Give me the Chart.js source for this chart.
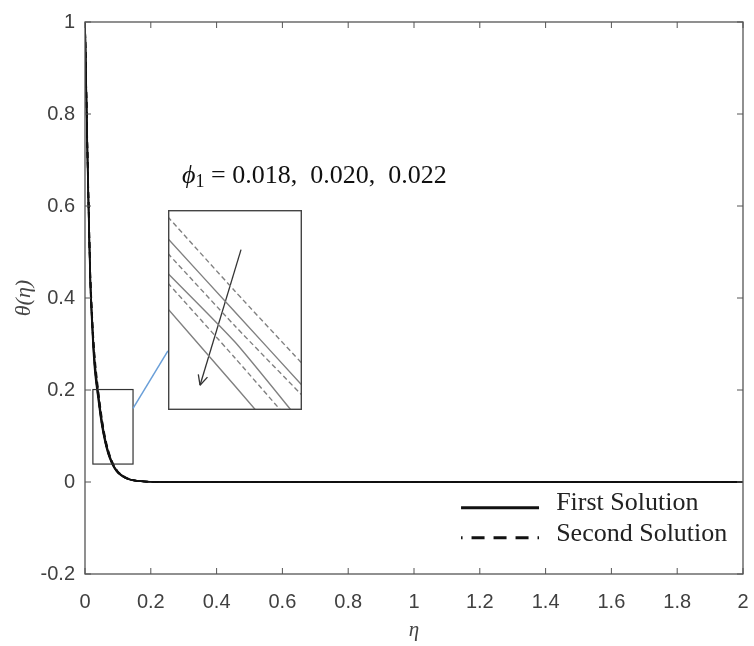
<!DOCTYPE html>
<html>
<head>
<meta charset="utf-8">
<script src="https://cdn.jsdelivr.net/npm/chart.js@4.4.0/dist/chart.umd.min.js"></script>
<style>
  html, body { margin: 0; padding: 0; background: #fff; }
  #wrap { position: relative; width: 754px; height: 646px; }
  #main { position: absolute; left: 0; top: 0; }
  #inset { position: absolute; left: 0; top: 0; }
</style>
</head>
<body>
<div id="wrap">
  <canvas id="main" width="754" height="646"></canvas>
  <canvas id="inset" width="10" height="10"></canvas>
</div>
<script>
// eta grid and temperature profiles
const eta = [0, 0.004, 0.008, 0.012, 0.016, 0.02, 0.025, 0.03, 0.04, 0.05, 0.06, 0.07, 0.08, 0.09, 0.1,
             0.12, 0.14, 0.16, 0.18, 0.2, 0.25, 0.3, 0.4, 0.6, 0.8, 1.0, 1.2, 1.4, 1.6, 1.8, 2.0];

const firstPhi018 = [1, 0.85, 0.70, 0.57, 0.45, 0.38, 0.31, 0.26, 0.195, 0.14, 0.098, 0.068, 0.047, 0.032, 0.022,
                     0.011, 0.005, 0.0025, 0.0012, 0.0006, 0.0001, 0, 0, 0, 0, 0, 0, 0, 0, 0, 0];
const firstPhi020 = [1, 0.845, 0.69, 0.56, 0.44, 0.37, 0.30, 0.25, 0.188, 0.134, 0.094, 0.065, 0.045, 0.031, 0.021,
                     0.010, 0.0048, 0.0024, 0.0011, 0.0005, 0.0001, 0, 0, 0, 0, 0, 0, 0, 0, 0, 0];
const firstPhi022 = [1, 0.84, 0.68, 0.55, 0.43, 0.36, 0.29, 0.24, 0.181, 0.128, 0.09, 0.062, 0.043, 0.029, 0.020,
                     0.0095, 0.0045, 0.0022, 0.001, 0.0005, 0.0001, 0, 0, 0, 0, 0, 0, 0, 0, 0, 0];
const secondPhi018 = [1, 0.855, 0.71, 0.58, 0.46, 0.39, 0.32, 0.27, 0.202, 0.146, 0.102, 0.071, 0.049, 0.034, 0.023,
                      0.0115, 0.0053, 0.0026, 0.0013, 0.0006, 0.0001, 0, 0, 0, 0, 0, 0, 0, 0, 0, 0];
const secondPhi020 = [1, 0.85, 0.70, 0.57, 0.45, 0.38, 0.31, 0.26, 0.192, 0.138, 0.097, 0.067, 0.046, 0.032, 0.0215,
                      0.0105, 0.005, 0.0025, 0.0012, 0.0006, 0.0001, 0, 0, 0, 0, 0, 0, 0, 0, 0, 0];
const secondPhi022 = [1, 0.845, 0.69, 0.56, 0.44, 0.37, 0.30, 0.25, 0.185, 0.132, 0.092, 0.064, 0.044, 0.030, 0.0205,
                      0.0098, 0.0046, 0.0023, 0.0011, 0.0005, 0.0001, 0, 0, 0, 0, 0, 0, 0, 0, 0, 0];

const phiValues = [0.018, 0.020, 0.022];
const legendLabels = ['First Solution', 'Second Solution'];

// zoomed view (inset), in its own 0..1 units
const insetU = [0, 0.5, 1];
const insetDashA = [0.965, 0.594, 0.233];
const insetSolidA = [0.856, 0.49, 0.124];
const insetDashB = [0.782, 0.42, 0.074];
const insetSolidB = [0.683, 0.34, -0.068];
const insetDashC = [0.634, 0.26, -0.124];
const insetSolidC = [0.505, 0.12, -0.27];
const arrowU = [0.545, 0.239];
const arrowV = [0.802, 0.124];

// boxes in data units (eta, theta)
const zoomBox = { eta0: 0.024, eta1: 0.146, th0: 0.039, th1: 0.201 };
const insetBox = { eta0: 0.252, eta1: 0.66, th0: 0.156, th1: 0.592 };
const connector = { thFrom: 0.16, thTo: 0.285 };

const pts = (xs, ys) => xs.map((x, i) => ({ x: x, y: ys[i] }));

function line(data, dashed) {
    return {
        data: pts(eta, data),
        borderColor: '#111',
        borderWidth: 1.6,
        borderDash: dashed ? [6, 4] : [],
        cubicInterpolationMode: 'monotone',
        pointRadius: 0,
        fill: false,
    };
}

const tickFont = { family: 'Liberation Sans, Arial, sans-serif', size: 20 };

// box, inward ticks, zoom box, labels, legend
const decorPlugin = {
    id: 'decor',
    afterDraw(chart) {
        const ctx = chart.ctx;
        const a = chart.chartArea;
        const xs = chart.scales.x;
        const ys = chart.scales.y;
        ctx.save();
        ctx.strokeStyle = '#555';
        ctx.lineWidth = 1.3;
        ctx.strokeRect(a.left, a.top, a.right - a.left, a.bottom - a.top);
        ctx.lineWidth = 1;
        ctx.beginPath();
        xs.ticks.forEach(t => {
            const p = xs.getPixelForValue(t.value);
            ctx.moveTo(p, a.bottom); ctx.lineTo(p, a.bottom - 6);
            ctx.moveTo(p, a.top); ctx.lineTo(p, a.top + 6);
        });
        ys.ticks.forEach(t => {
            const p = ys.getPixelForValue(t.value);
            ctx.moveTo(a.left, p); ctx.lineTo(a.left + 6, p);
            ctx.moveTo(a.right, p); ctx.lineTo(a.right - 6, p);
        });
        ctx.stroke();

        // small zoom rectangle
        const zx0 = xs.getPixelForValue(zoomBox.eta0), zx1 = xs.getPixelForValue(zoomBox.eta1);
        const zy0 = ys.getPixelForValue(zoomBox.th1), zy1 = ys.getPixelForValue(zoomBox.th0);
        ctx.strokeStyle = '#333';
        ctx.lineWidth = 1.2;
        ctx.strokeRect(zx0, zy0, zx1 - zx0, zy1 - zy0);

        // connector to inset
        ctx.strokeStyle = '#6a9fd8';
        ctx.lineWidth = 1.5;
        ctx.beginPath();
        ctx.moveTo(zx1, ys.getPixelForValue(connector.thFrom));
        ctx.lineTo(xs.getPixelForValue(insetBox.eta0), ys.getPixelForValue(connector.thTo));
        ctx.stroke();

        // phi label
        let tx = xs.getPixelForValue(0.295);
        const ty = ys.getPixelForValue(0.649);
        ctx.fillStyle = '#111';
        ctx.textBaseline = 'alphabetic';
        ctx.font = 'italic 26px "Liberation Serif", serif';
        ctx.fillText('\u03D5', tx, ty);
        tx += ctx.measureText('\u03D5').width;
        ctx.font = '18px "Liberation Serif", serif';
        ctx.fillText('1', tx, ty + 4);
        tx += ctx.measureText('1').width;
        ctx.font = '26px "Liberation Serif", serif';
        ctx.fillText(' = ' + phiValues.map(v => v.toFixed(3)).join(',  '), tx, ty);

        // legend
        const lx0 = xs.getPixelForValue(1.143), lx1 = xs.getPixelForValue(1.38);
        const ltx = xs.getPixelForValue(1.432);
        const ly = [ys.getPixelForValue(-0.056), ys.getPixelForValue(-0.121)];
        ctx.strokeStyle = '#111';
        ctx.lineWidth = 3;
        ctx.beginPath();
        ctx.moveTo(lx0, ly[0]); ctx.lineTo(lx1, ly[0]);
        ctx.stroke();
        ctx.setLineDash([1.5, 9, 13, 9, 13, 9, 13, 9]);
        ctx.beginPath();
        ctx.moveTo(lx0, ly[1]); ctx.lineTo(lx1, ly[1]);
        ctx.stroke();
        ctx.setLineDash([]);
        ctx.font = '26px "Liberation Serif", serif';
        ctx.textBaseline = 'middle';
        ctx.fillStyle = '#222';
        ctx.fillText(legendLabels[0], ltx, ly[0] - 5);
        ctx.fillText(legendLabels[1], ltx, ly[1] - 3);
        ctx.restore();
    }
};

const mainChart = new Chart(document.getElementById('main'), {
    type: 'line',
    data: {
        datasets: [
            line(firstPhi018, false), line(firstPhi020, false), line(firstPhi022, false),
            line(secondPhi018, true), line(secondPhi020, true), line(secondPhi022, true),
        ],
    },
    options: {
        responsive: false,
        animation: false,
        devicePixelRatio: 1,
        layout: { padding: { top: 18, right: 11, left: 0, bottom: 0 } },
        plugins: { legend: { display: false }, tooltip: { enabled: false } },
        scales: {
            x: {
                type: 'linear', min: 0, max: 2,
                grid: { display: false, drawTicks: false }, border: { display: false },
                ticks: {
                    stepSize: 0.2, autoSkip: false, maxRotation: 0, padding: 16,
                    color: '#404040', font: tickFont,
                    callback: v => String(Number(v.toFixed(1))),
                },
                title: {
                    display: true, text: '\u03B7', color: '#444',
                    font: { family: 'Liberation Serif, serif', size: 21, style: 'italic' },
                    padding: { top: 0, bottom: 3 },
                },
                afterFit(s) { s.height = 72; s.paddingRight = 0; s.paddingLeft = 0; },
            },
            y: {
                min: -0.2, max: 1,
                grid: { display: false, drawTicks: false }, border: { display: false },
                ticks: {
                    stepSize: 0.2, padding: 10,
                    color: '#404040', font: tickFont,
                    callback: v => String(Number(v.toFixed(1))),
                },
                title: {
                    display: true, text: '\u03B8(\u03B7)', color: '#444',
                    font: { family: 'Liberation Serif, serif', size: 22, style: 'italic' },
                    padding: { top: 11, bottom: 0 },
                },
                afterFit(s) { s.width = 85; },
            },
        },
    },
    plugins: [decorPlugin],
});

// place and draw the inset
const mx = mainChart.scales.x, my = mainChart.scales.y;
const ix0 = Math.round(mx.getPixelForValue(insetBox.eta0));
const ix1 = Math.round(mx.getPixelForValue(insetBox.eta1));
const iy0 = Math.round(my.getPixelForValue(insetBox.th1));
const iy1 = Math.round(my.getPixelForValue(insetBox.th0));
const insetCanvas = document.getElementById('inset');
insetCanvas.width = ix1 - ix0;
insetCanvas.height = iy1 - iy0;
insetCanvas.style.left = ix0 + 'px';
insetCanvas.style.top = iy0 + 'px';

function insetLine(ys, dashed) {
    return {
        data: pts(insetU, ys),
        borderColor: '#808080',
        borderWidth: 1.4,
        borderDash: dashed ? [5, 3] : [],
        tension: 0.2,
        pointRadius: 0,
    };
}

const insetPlugin = {
    id: 'insetDecor',
    beforeDraw(chart) {
        const ctx = chart.ctx;
        ctx.save();
        ctx.fillStyle = '#fff';
        ctx.fillRect(0, 0, chart.width, chart.height);
        ctx.restore();
    },
    afterDraw(chart) {
        const ctx = chart.ctx;
        ctx.save();
        // arrow head
        const meta = chart.getDatasetMeta(chart.data.datasets.length - 1);
        const p0 = meta.data[0], p1 = meta.data[1];
        const ang = Math.atan2(p1.y - p0.y, p1.x - p0.x);
        ctx.strokeStyle = '#333';
        ctx.lineWidth = 1.3;
        ctx.beginPath();
        [0.45, -0.45].forEach(d => {
            ctx.moveTo(p1.x, p1.y);
            ctx.lineTo(p1.x - 11 * Math.cos(ang + d), p1.y - 11 * Math.sin(ang + d));
        });
        ctx.stroke();
        // frame
        ctx.strokeStyle = '#444';
        ctx.lineWidth = 1.4;
        ctx.strokeRect(0.7, 0.7, chart.width - 1.4, chart.height - 1.4);
        ctx.restore();
    }
};

new Chart(insetCanvas, {
    type: 'line',
    data: {
        datasets: [
            insetLine(insetDashA, true), insetLine(insetSolidA, false),
            insetLine(insetDashB, true), insetLine(insetSolidB, false),
            insetLine(insetDashC, true), insetLine(insetSolidC, false),
            {
                data: pts(arrowU, arrowV),
                borderColor: '#333', borderWidth: 1.3, pointRadius: 0,
            },
        ],
    },
    options: {
        responsive: false,
        animation: false,
        devicePixelRatio: 1,
        layout: { padding: 0 },
        plugins: { legend: { display: false }, tooltip: { enabled: false } },
        scales: {
            x: { type: 'linear', min: 0, max: 1, display: false },
            y: { min: 0, max: 1, display: false },
        },
    },
    plugins: [insetPlugin],
});
</script>
</body>
</html>
